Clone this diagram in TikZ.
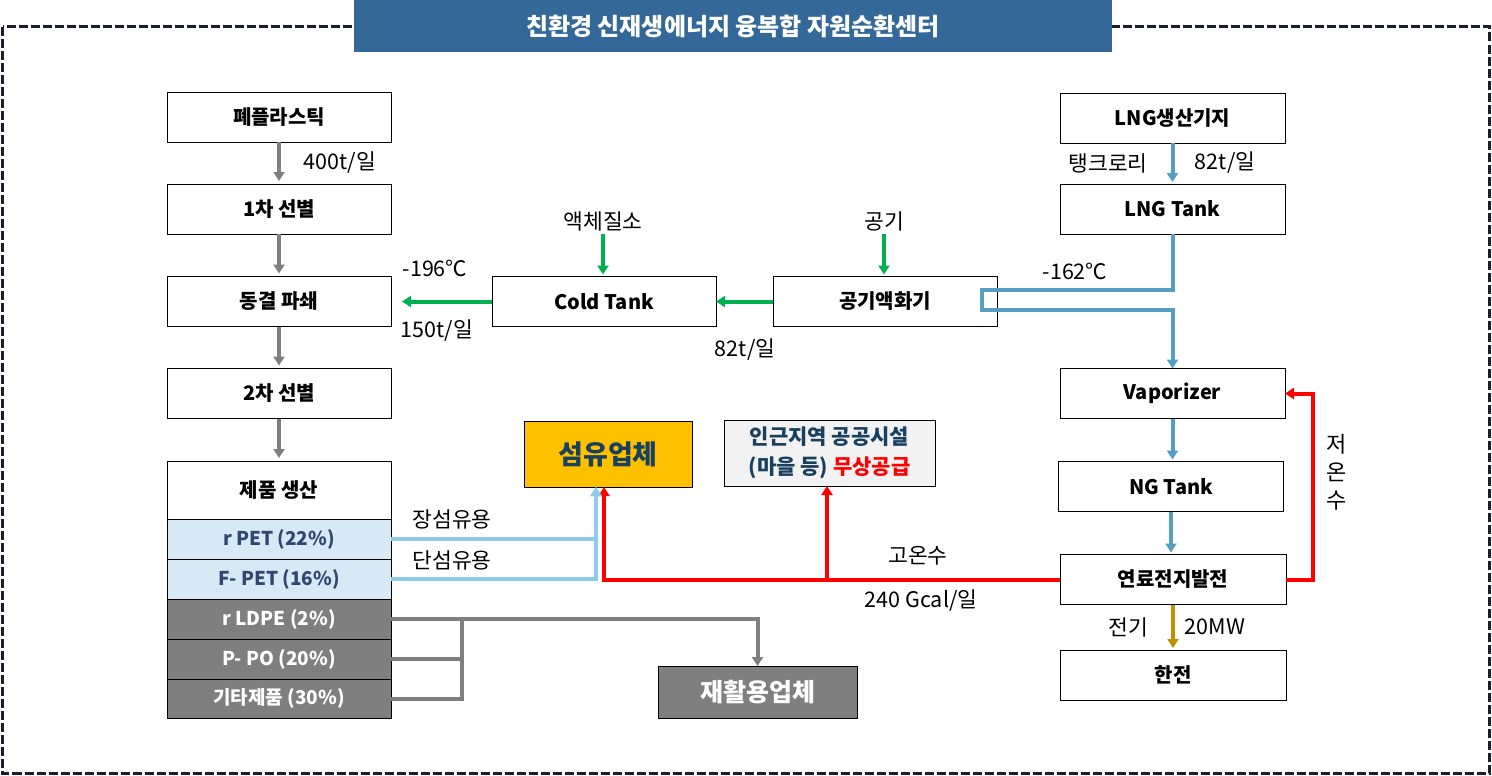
\documentclass[tikz,border=0pt]{standalone}
\usepackage{fontspec}
\setmainfont{Noto Sans CJK KR}
\usepackage{xcolor}
\usepackage{tikz}
\usetikzlibrary{arrows.meta, positioning, calc}
\definecolor{mynavy}{RGB}{52,104,153}
\definecolor{myframe}{RGB}{25,30,45}
\definecolor{mygray}{RGB}{127,127,127}
\definecolor{mygreen}{RGB}{0,176,80}
\definecolor{mylng}{RGB}{86,158,196}
\definecolor{mysky}{RGB}{142,204,232}
\definecolor{mygold}{RGB}{191,144,0}
\definecolor{myamber}{RGB}{255,192,0}
\definecolor{petfill}{RGB}{214,233,245}
\definecolor{pettext}{RGB}{50,70,110}
\definecolor{mydarkblue}{RGB}{26,64,96}
\definecolor{hdrgray}{RGB}{242,242,242}
\tikzset{
  block/.style={rectangle, draw=black, line width=0.9pt, minimum width=224pt,
    minimum height=50pt, inner sep=0pt, outer sep=0pt,
    font=\fontsize{20}{22}\selectfont\bfseries},
  row/.style={block, minimum height=40pt, font=\fontsize{19}{21}\selectfont\bfseries},
  lbl/.style={font=\fontsize{21.5}{23}\selectfont, inner sep=0pt},
  flow/.style={line width=4pt, -{Triangle[length=9pt,width=11pt]}},
  pipe/.style={line width=4pt}
}

\begin{document}
\begin{tikzpicture}[x=1pt, y=-1pt]
  \useasboundingbox (0,0) rectangle (1492,776);

  % Frame and title
  \draw[myframe, line width=3pt, dash pattern=on 9pt off 3pt] (2.5,27) rectangle (1489,773);
  \node[fill=mynavy, minimum width=758pt, minimum height=52pt, inner sep=0pt, text=white,
    font=\fontsize{24}{26}\selectfont\bfseries] (title) at (733,26) {친환경 신재생에너지 융복합 자원순환센터};

  % Plastic line
  \node[block] (waste) at (279,117) {폐플라스틱};
  \node[block] (sort1) at (279,209) {1차 선별};
  \node[block] (crush) at (279,301.5) {동결 파쇄};
  \node[block] (sort2) at (279,393.5) {2차 선별};
  \node[block, minimum height=58pt] (make) at (279,490) {제품 생산};
  \node[row, fill=petfill, text=pettext] (rpet) at (279,539) {r PET (22\%)};
  \node[row, fill=petfill, text=pettext] (fpet) at (279,579) {F- PET (16\%)};
  \node[row, fill=mygray, text=white] (ldpe) at (279,619) {r LDPE (2\%)};
  \node[row, fill=mygray, text=white] (ppo) at (279,659) {P- PO (20\%)};
  \node[row, fill=mygray, text=white, minimum height=39pt] (etc) at (279,698.5) {기타제품 (30\%)};
  \draw[flow, mygray, shorten >=3pt] (waste.south) -- (sort1.north);
  \draw[flow, mygray, shorten >=3pt] (sort1.south) -- (crush.north);
  \draw[flow, mygray, shorten >=3pt] (crush.south) -- (sort2.north);
  \draw[flow, mygray, shorten >=3pt] (sort2.south) -- (make.north);
  \node[lbl] (t400) at (340,163) {400t/일};

  % Cold chain
  \node[block] (cold) at (604,301.5) {Cold Tank};
  \node[block] (liq) at (885,301.5) {공기액화기};
  \node[lbl] (ln2) at (603,221) {액체질소};
  \node[lbl] (air) at (884,221) {공기};
  \draw[flow, mygreen, shorten <=3pt, shorten >=2pt] (ln2.south) -- (ln2.south |- cold.north);
  \draw[flow, mygreen, shorten <=3pt, shorten >=2pt] (air.south) -- (air.south |- liq.north);
  \draw[flow, mygreen] (liq.west) -- (cold.east);
  \draw[flow, mygreen, shorten >=11pt] (cold.west) -- (crush.east);
  \node[lbl] (t196) at (435,268) {-196℃};
  \node[lbl] (t150) at (437,331) {150t/일};
  \node[lbl] (t82a) at (745,350) {82t/일};

  % LNG line
  \node[block, minimum width=225pt] (lngbase) at (1172.5,118) {LNG생산기지};
  \node[block, minimum width=225pt] (lngtank) at (1172.5,209) {LNG Tank};
  \node[block, minimum width=225pt] (vap) at (1172.5,393.5) {Vaporizer};
  \node[block, minimum width=225pt] (ngtank) at (1171,486.5) {NG Tank};
  \node[block, minimum width=226pt] (fuel) at (1173,579.5) {연료전지발전};
  \node[block, minimum width=226pt] (kepco) at (1173,675) {한전};
  \draw[flow, mylng, shorten >=2pt] (lngbase.south) -- (lngtank.north);
  \draw[flow, mylng] (lngtank.south) |- (982,290) -- (982,310) -| (vap.north);
  \draw[flow, mylng, shorten >=2pt] (vap.south) -- (vap.south |- ngtank.north);
  \draw[flow, mylng, shorten >=2pt] (ngtank.south) -- (ngtank.south |- fuel.north);
  \draw[flow, mygold, shorten >=2pt] (fuel.south) -- (kepco.north);
  \node[lbl] (truck) at (1108,163) {탱크로리};
  \node[lbl] (t82b) at (1225,163) {82t/일};
  \node[lbl] (t162) at (1075,271) {-162℃};
  \node[lbl] (elec) at (1128,627) {전기};
  \node[lbl] (mw) at (1215,627) {20MW};

  % Hot and cold water
  \node[block, fill=myamber, minimum width=168pt, minimum height=66pt, text=mydarkblue,
    font=\fontsize{27}{29}\selectfont\bfseries] (fiber) at (608,454) {섬유업체};
  \node[block, fill=hdrgray, minimum width=211pt, minimum height=66pt, text=mydarkblue, align=center,
    font=\fontsize{21}{30}\selectfont\bfseries] (town) at (829.5,453) {인근지역 공공시설\\(마을 등) \textcolor{red}{무상공급}};
  \coordinate (hotj) at (827,578);
  \draw[flow, red] (fuel.east) -- ++(27,0) |- (vap.east);
  \draw[flow, red] (fuel.west) -| ([xshift=-4pt]fiber.south);
  \draw[flow, red] (hotj) -- (hotj |- town.south);
  \node[lbl, align=center, font=\fontsize{22}{28}\selectfont] (coldw) at (1337,472) {저\\온\\수};
  \node[lbl] (hotw) at (918,556) {고온수};
  \node[lbl] (gcal) at (921,601) {240 Gcal/일};

  % Fibre and recycling
  \draw[flow, mysky] (rpet.east) -| ([xshift=-12pt]fiber.south);
  \draw[flow, mysky] (fpet.east) -| ([xshift=-12pt]fiber.south);
  \node[lbl] (longf) at (452,519) {장섬유용};
  \node[lbl] (shortf) at (452,560) {단섬유용};
  \node[block, fill=mygray, text=white, minimum width=199pt, minimum height=52pt,
    font=\fontsize{25}{27}\selectfont\bfseries] (recycle) at (757.5,692) {재활용업체};
  \coordinate (grayj) at (462,619);
  \draw[flow, mygray] (ldpe.east) -| (recycle.north);
  \draw[pipe, mygray] (grayj) |- (etc.east);
  \draw[pipe, mygray] (ppo.east) -- (ppo.east -| grayj);
\end{tikzpicture}
\end{document}
